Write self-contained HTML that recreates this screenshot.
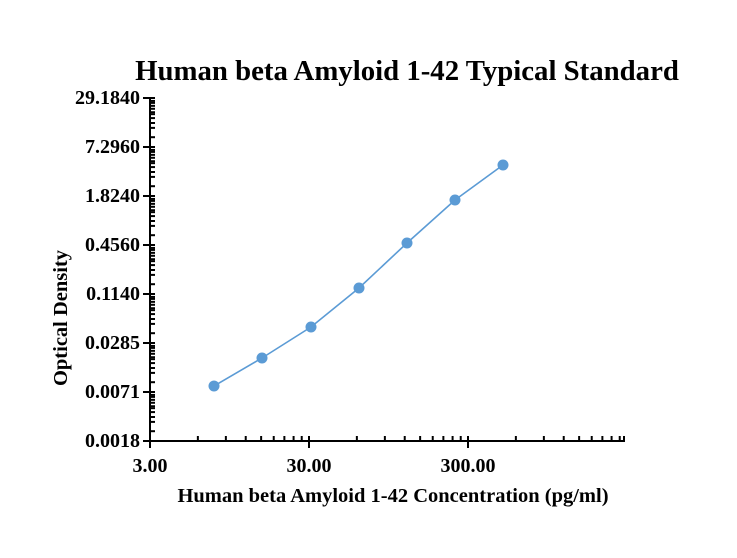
<!DOCTYPE html>
<html><head><meta charset="utf-8"><style>body{margin:0;background:#fff}</style></head><body>
<svg width="737" height="553" xmlns="http://www.w3.org/2000/svg" font-family="Liberation Serif, serif" font-weight="bold">
<rect width="737" height="553" fill="#fff"/>
<text x="407" y="80" font-size="28.8" text-anchor="middle">Human beta Amyloid 1-42 Typical Standard</text>
<text x="393" y="502" font-size="20.5" text-anchor="middle">Human beta Amyloid 1-42 Concentration (pg/ml)</text>
<text transform="translate(67,318) rotate(-90)" font-size="20.5" text-anchor="middle">Optical Density</text>
<g stroke="#000" stroke-width="2" fill="none" id="ax"></g>
<g font-size="20" text-anchor="end" id="yl"></g>
<g font-size="20" text-anchor="middle" id="xl"></g>
<polyline fill="none" stroke="#5b9bd5" stroke-width="1.6" points="214,386 262,358 311,327 359,288 407,243 455,200 503,165"/>
<g fill="#5b9bd5" id="pts"></g>
<script>
var ns="http://www.w3.org/2000/svg",ax=document.getElementById('ax');
function L(x1,y1,x2,y2){var l=document.createElementNS(ns,'line');l.setAttribute('x1',x1);l.setAttribute('y1',y1);l.setAttribute('x2',x2);l.setAttribute('y2',y2);ax.appendChild(l);}
function T(g,x,y,s){var t=document.createElementNS(ns,'text');t.setAttribute('x',x);t.setAttribute('y',y);t.textContent=s;document.getElementById(g).appendChild(t);}
L(150,97,150,442);L(149,441,625,441);
var ylab=["0.0018","0.0071","0.0285","0.1140","0.4560","1.8240","7.2960","29.1840"];
var fr=[.2,.39,.49,.59,.67,.71,.78,.84,.9,.94];
for(var i=0;i<8;i++){var y=441-i*49;L(143,y,155,y);T('yl',140,y+6,ylab[i]);
 if(i<7)fr.forEach(function(f){L(150,y-f*49,155,y-f*49);});}
var xl=["3.00","30.00","300.00"];
for(var d=0;d<3;d++){var x=150+d*159;L(x,436,x,448);T('xl',x,472,xl[d]);
 for(var k=2;k<=9;k++){var xx=x+Math.log10(k)*159;if(xx<626)L(xx,436,xx,441);}}
L(624,436,624,441);
[[214,386],[262,358],[311,327],[359,288],[407,243],[455,200],[503,165]].forEach(function(p){var c=document.createElementNS(ns,'circle');c.setAttribute('cx',p[0]);c.setAttribute('cy',p[1]);c.setAttribute('r',5.5);document.getElementById('pts').appendChild(c);});
</script>
</svg>
</body></html>
